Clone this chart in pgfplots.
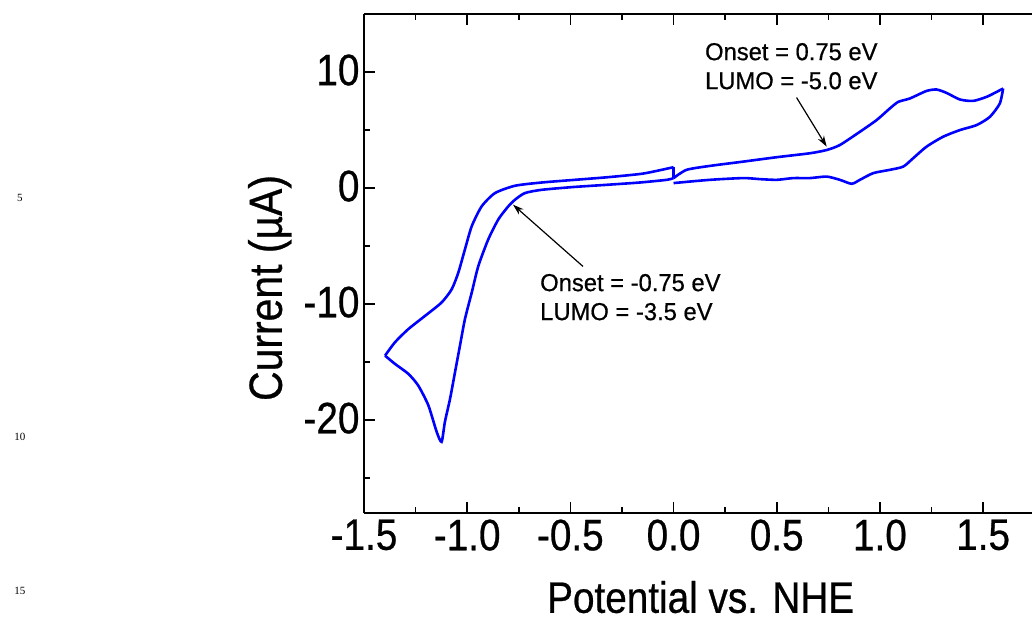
\documentclass[border=0pt]{standalone}
\usepackage{fontspec}
\setmainfont{Liberation Sans}[FakeStretch=0.88, FakeBold=0.6]
\newfontfamily\notefamily{Liberation Sans}[FakeStretch=0.97, FakeBold=0.6]
\newfontfamily\linenofont{Liberation Serif}
\usepackage{pgfplots}
\pgfplotsset{compat=1.18}
\usetikzlibrary{arrows.meta}

\newcommand{\bigfont}{\fontsize{44}{50}\selectfont}
\newcommand{\notefont}{\notefamily\fontsize{24.5}{29}\selectfont}

\begin{document}
\begin{tikzpicture}
\path[use as bounding box] (-364pt,-108pt) rectangle (668pt,513pt);
\clip (-364pt,-108pt) rectangle (668pt,513pt);
\begin{axis}[
  scale only axis,
  width=668pt, height=499pt,
  xmin=-1.5, xmax=1.737,
  ymin=-28, ymax=15,
  axis x line=box,
  axis y line*=left,
  axis line style={line width=2pt},
  xtick={-1.5,-1,...,1.5},
  minor xtick={-1.25,-0.75,...,1.75},
  ytick={-20,-10,0,10},
  minor ytick={-25,-15,-5,5},
  tick align=inside,
  major tick length=11pt,
  minor tick length=6pt,
  every tick/.style={black, line width=1.6pt},
  /pgf/number format/assume math mode=true,
  xticklabel={\pgfmathprintnumber[fixed,fixed zerofill,precision=1]{\tick}},
  tick label style={font=\bigfont},
  xticklabel style={yshift=-3pt},
  yticklabel style={xshift=-1pt,yshift=2pt},
  xlabel={Potential vs. NHE},
  ylabel={Current (µA)},
  label style={font=\bigfont},
  xlabel style={at={(axis description cs:0.504,-0.2)}, anchor=base},
  ylabel style={at={(axis description cs:-0.141,0.451)}, anchor=center,
    font=\fontsize{46.5}{52}\selectfont},
  clip=false,
]
% left loop, forward (inner) branch
\addplot[blue, line width=2.6pt, smooth, tension=0.4] coordinates {
  (0.0,0.86) (-0.033,0.71) (-0.163,0.48) (-0.324,0.28) (-0.486,0.09)
  (-0.639,-0.15) (-0.720,-0.43) (-0.768,-1.00) (-0.801,-1.58) (-0.849,-2.70)
  (-0.898,-4.43) (-0.946,-6.72) (-0.978,-9.01) (-1.011,-11.30) (-1.035,-13.58)
  (-1.059,-15.87) (-1.083,-18.16) (-1.108,-20.15) (-1.124,-21.87)
  (-1.148,-21.0) (-1.188,-18.73) (-1.237,-17.02) (-1.285,-16.01)
  (-1.350,-15.15) (-1.398,-14.44)
};
% left loop, reverse (outer) branch
\addplot[blue, line width=2.6pt, smooth, tension=0.4] coordinates {
  (-1.398,-14.44) (-1.350,-13.29) (-1.285,-12.15) (-1.204,-11.01)
  (-1.124,-9.86) (-1.075,-8.72) (-1.043,-7.29) (-1.011,-5.29) (-0.978,-3.29)
  (-0.930,-1.58) (-0.865,-0.43) (-0.768,0.20) (-0.639,0.48) (-0.478,0.71)
  (-0.316,0.94) (-0.155,1.23) (-0.058,1.57) (0.0,1.80)
};
\addplot[blue, line width=2.6pt] coordinates {(0.0,1.80) (0.0,0.86)};
% right loop, forward branch
\addplot[blue, line width=2.6pt, smooth, tension=0.4] coordinates {
  (0.0,0.86) (0.063,1.57) (0.176,1.91) (0.338,2.28) (0.500,2.66)
  (0.661,3.00) (0.742,3.28) (0.806,3.71) (0.903,4.85) (0.984,5.86)
  (1.048,6.86) (1.089,7.43) (1.145,7.72) (1.226,8.37) (1.275,8.49)
  (1.323,8.20) (1.388,7.63) (1.452,7.51) (1.517,7.86) (1.565,8.28)
  (1.597,8.58)
};
% right loop, reverse branch
\addplot[blue, line width=2.6pt, smooth, tension=0.4] coordinates {
  (1.597,8.58) (1.581,7.29) (1.533,6.14) (1.469,5.43) (1.388,5.00)
  (1.307,4.43) (1.226,3.57) (1.161,2.57) (1.113,1.85) (1.048,1.57)
  (0.968,1.29) (0.903,0.71) (0.863,0.37) (0.806,0.71) (0.742,0.99)
  (0.661,0.86) (0.580,0.86) (0.500,0.71) (0.419,0.77) (0.338,0.86)
  (0.176,0.71) (0.0,0.43)
};
\draw[-{Stealth[length=11pt,width=7pt]}, line width=1.2pt]
  (axis cs:-0.439,-6.75) -- (axis cs:-0.778,-1.43);
\draw[-{Stealth[length=11pt,width=7pt]}, line width=1.2pt]
  (axis cs:0.596,7.80) -- (axis cs:0.742,3.57);
\node[font=\notefont, align=left, anchor=west, inner sep=0pt]
  at (axis cs:-0.647,-9.4) {Onset = -0.75 eV\\LUMO = -3.5 eV};
\node[font=\notefont, align=left, anchor=west, inner sep=0pt]
  at (axis cs:0.152,10.5) {Onset = 0.75 eV\\LUMO = -5.0 eV};
\end{axis}
\node[font=\linenofont\fontsize{11}{13}\selectfont] at (-344pt,315pt) {5};
\node[font=\linenofont\fontsize{11}{13}\selectfont] at (-344pt,76pt) {10};
\node[font=\linenofont\fontsize{11}{13}\selectfont] at (-344pt,-78pt) {15};
\end{tikzpicture}
\end{document}
